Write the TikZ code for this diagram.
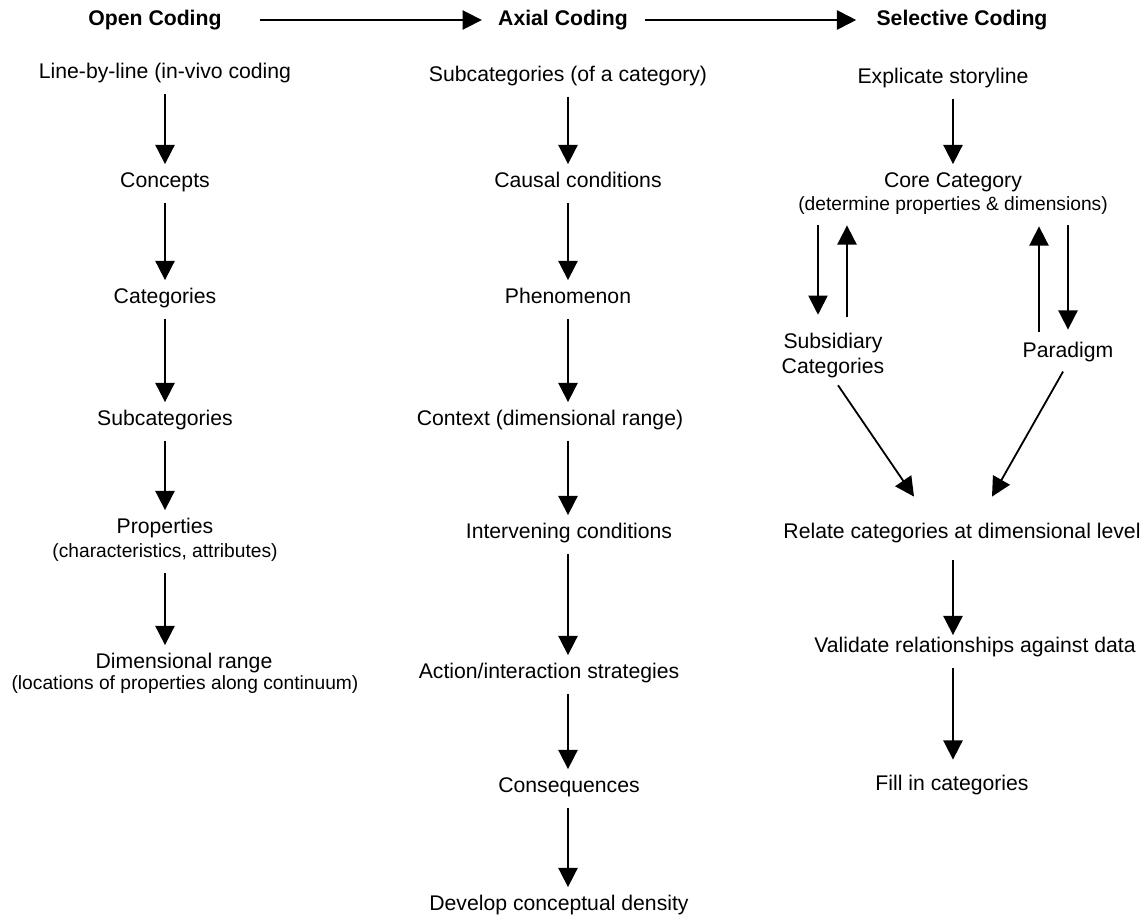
\documentclass[tikz,border=0pt]{standalone}
\usepackage{fontspec}
\setmainfont{Liberation Sans}
\usetikzlibrary{arrows.meta}

\begin{document}
\begin{tikzpicture}[x=0.5pt,y=-0.5pt,
  lbl/.style={font=\fontsize{10.6pt}{12.5pt}\selectfont, text height=8pt, text depth=2.5pt},
  sublbl/.style={font=\fontsize{9.6pt}{11pt}\selectfont, text height=7.2pt, text depth=2.3pt},
  head/.style={lbl, font=\fontsize{10.6pt}{12.5pt}\selectfont\bfseries},
  arr/.style={-{Triangle[width=9.6pt,length=9.6pt]}, line width=0.9pt, shorten <=5pt, shorten >=3.5pt}]
            \tikzstyle{every node}+=[inner sep=0pt]
            \useasboundingbox (0,0) rectangle (1146,916);
            % headings
            \node[head] (open) at (155,20) {Open Coding};
            \node[head] (axial) at (563,20) {Axial Coding};
            \node[head] (sel) at (962,20) {Selective Coding};
            \draw[arr, shorten <=19pt, shorten >=8pt] (open) -- (axial);
            \draw[arr, shorten <=8.5pt, shorten >=10pt] (axial) -- (sel);
            % open coding
            \node[lbl] (line) at (165,73) {Line-by-line (in-vivo coding};
            \node[lbl] (conc) at (165,182) {Concepts};
            \node[lbl] (cat) at (165,298) {Categories};
            \node[lbl] (subc) at (165,420) {Subcategories};
            \node[lbl] (prop) at (165,528) {Properties};
            \node[sublbl] (propsub) at (165,553) {(characteristics, attributes)};
            \node[lbl] (dim) at (184,663) {Dimensional range};
            \node[sublbl] (dimsub) at (185,685) {(locations of properties along continuum)};
            \foreach \a/\b in {line/conc, conc/cat, cat/subc, subc/prop, propsub/dim}
              \draw[arr] (\a.south -| subc) -- (\b.north -| subc);
            % axial coding
            \node[lbl] (subcat1) at (568,76) {Subcategories (of a category)};
            \node[lbl] (causal) at (578,182) {Causal conditions};
            \node[lbl] (phen) at (568,298) {Phenomenon};
            \node[lbl] (ctx) at (550,420) {Context (dimensional range)};
            \node[lbl] (interv) at (569,533) {Intervening conditions};
            \node[lbl] (action) at (549,673) {Action/interaction strategies};
            \node[lbl] (cons) at (569,787) {Consequences};
            \node[lbl] (dev) at (559,905) {Develop conceptual density};
            \foreach \a/\b in {subcat1/causal, causal/phen, phen/ctx, ctx/interv, interv/action, action/cons, cons/dev}
              \draw[arr] (\a.south -| phen) -- (\b.north -| phen);
            % selective coding
            \node[lbl] (expl) at (943,78) {Explicate storyline};
            \node[lbl] (core) at (953,182) {Core Category};
            \node[sublbl] (coresub) at (953,206) {(determine properties \& dimensions)};
            \node[font=\fontsize{10.6pt}{12.5pt}\selectfont, align=center] (subcat) at (833,355.5) {Subsidiary\\Categories};
            \node[lbl] (para) at (1068,352) {Paradigm};
            \node[lbl] (relate) at (962,533) {Relate categories at dimensional level};
            \node[lbl] (valid) at (975,647) {Validate relationships against data};
            \node[lbl] (fill) at (952,785) {Fill in categories};
            \coordinate (relL) at ([shift={(-24pt,12.75pt)}]relate.north);
            \coordinate (relR) at ([shift={(15pt,12.75pt)}]relate.north);
            \draw[arr] (expl.south -| core) -- (core.north);
            \draw[arr, shorten <=4.75pt, shorten >=9pt] ([xshift=-7.5pt]subcat.north |- coresub.south) -- ([xshift=-7.5pt]subcat.north);
            \draw[arr, shorten <=8pt, shorten >=4.75pt] ([xshift=7pt]subcat.north) -- ([xshift=7pt]subcat.north |- coresub.south);
            \draw[arr, shorten <=4.75pt, shorten >=5.25pt] ([xshift=-14.5pt]para.north) -- ([xshift=-14.5pt]para.north |- coresub.south);
            \draw[arr, shorten <=4.75pt, shorten >=5.75pt] (para.north |- coresub.south) -- (para.north);
            \draw[arr, shorten <=0pt, shorten >=0pt] ([shift={(2.5pt,-3.5pt)}]subcat.south) -- (relL);
            \draw[arr, shorten <=5pt, shorten >=0pt] (para.south) -- (relR);
            \draw[arr, shorten <=8pt, shorten >=0.5pt] (relate.south -| core) -- (valid.north -| core);
            \draw[arr, shorten <=5.25pt, shorten >=7.25pt] (valid.south -| core) -- (fill.north -| core);
\end{tikzpicture}
\end{document}
